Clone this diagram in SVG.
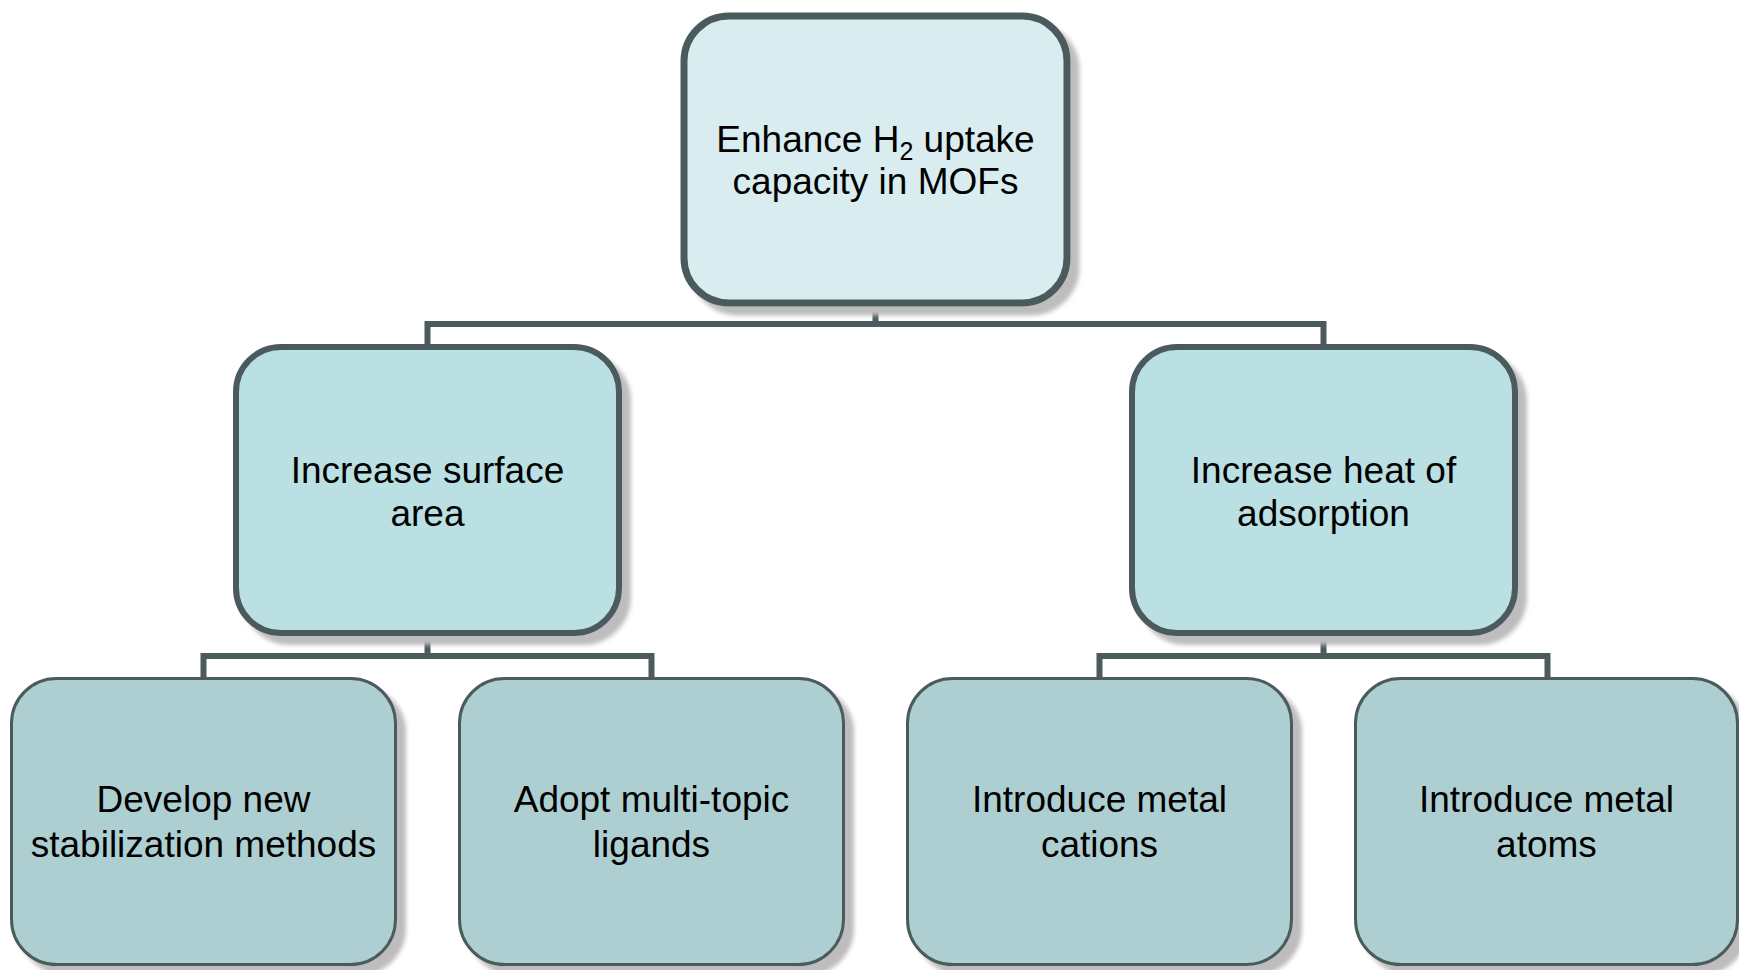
<svg xmlns="http://www.w3.org/2000/svg" width="1739" height="970" viewBox="0 0 1739 970">
<defs>
<filter id="sh" x="-10%" y="-10%" width="130%" height="130%">
<feGaussianBlur in="SourceAlpha" stdDeviation="2"/>
<feOffset dx="9" dy="9" result="o"/>
<feFlood flood-color="#bdbdbd"/>
<feComposite in2="o" operator="in" result="s"/>
<feMerge><feMergeNode in="s"/><feMergeNode in="SourceGraphic"/></feMerge>
</filter>
</defs>
<style>
.n{stroke:#4b5a5b;filter:url(#sh)}
.l1{fill:#d9ecef;stroke-width:7}
.l2{fill:#bae0e3;stroke-width:6}
.l3{fill:#aecfd2;stroke-width:3}
.t{font-family:"Liberation Sans",Arial,sans-serif;font-size:37px;fill:#000;text-anchor:middle}
.c{fill:none;stroke:#4b5a5b;stroke-width:6}
</style>
<rect width="1739" height="970" fill="#fff"/>
<g id="connectors">
<path class="c" d="M875.5,303 V324"/>
<path class="c" d="M427.5,347 V324 H1323.5 V347"/>
<path class="c" d="M427.5,633 V656"/>
<path class="c" d="M203.5,678 V656 H651.5 V678"/>
<path class="c" d="M1323.5,633 V656"/>
<path class="c" d="M1099.5,678 V656 H1547.5 V678"/>
</g>
<g id="root">
<rect class="n l1" x="684" y="16" width="383" height="287" rx="45"/>
<text class="t" x="875.5" y="152">Enhance H<tspan font-size="25" dy="8">2</tspan><tspan dy="-8"> uptake</tspan></text>
<text class="t" x="875.5" y="194">capacity in MOFs</text>
</g>
<g id="surface">
<rect class="n l2" x="236" y="347" width="383" height="286" rx="45"/>
<text class="t" x="427.5" y="483">Increase surface</text>
<text class="t" x="427.5" y="526">area</text>
</g>
<g id="heat">
<rect class="n l2" x="1132" y="347" width="383" height="286" rx="45"/>
<text class="t" x="1323.5" y="483">Increase heat of</text>
<text class="t" x="1323.5" y="526">adsorption</text>
</g>
<g id="stabilization">
<rect class="n l3" x="11.5" y="678.5" width="384" height="286" rx="45"/>
<text class="t" x="203.5" y="812">Develop new</text>
<text class="t" x="203.5" y="857">stabilization methods</text>
</g>
<g id="ligands">
<rect class="n l3" x="459.5" y="678.5" width="384" height="286" rx="45"/>
<text class="t" x="651.5" y="812">Adopt multi-topic</text>
<text class="t" x="651.5" y="857">ligands</text>
</g>
<g id="cations">
<rect class="n l3" x="907.5" y="678.5" width="384" height="286" rx="45"/>
<text class="t" x="1099.5" y="812">Introduce metal</text>
<text class="t" x="1099.5" y="857">cations</text>
</g>
<g id="atoms">
<rect class="n l3" x="1355.5" y="678.5" width="382" height="286" rx="45"/>
<text class="t" x="1546.5" y="812">Introduce metal</text>
<text class="t" x="1546.5" y="857">atoms</text>
</g>
</svg>
